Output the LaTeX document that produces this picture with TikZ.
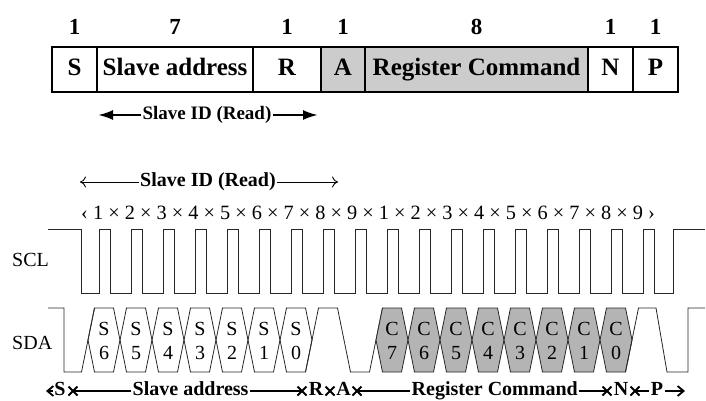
\documentclass[tikz,border=0pt]{standalone}
\usepackage{fontspec}
\setmainfont{Liberation Serif}
\usetikzlibrary{arrows.meta}
\definecolor{hdrgray}{HTML}{CCCCCC}
\definecolor{bitgray}{HTML}{B4B4B4}
\begin{document}
\begin{tikzpicture}[x=1pt,y=-1pt,
  hdrbox/.style={draw, line width=1.3pt, minimum height=45pt, inner sep=0pt,
    text height=17pt, text depth=5pt, font=\fontsize{25}{25}\selectfont\bfseries},
  numlab/.style={font=\fontsize{23}{23}\selectfont\bfseries, inner sep=0pt},
  idlab/.style={font=\fontsize{19}{19}\selectfont\bfseries, inner sep=1pt, text height=13pt, text depth=4pt},
  thickarr/.style={line width=2.3pt, -{Latex[length=15pt,width=10pt]}},
  thinarr/.style={line width=0.9pt, -{To[length=6pt,width=11pt]}},
  sig/.style={line width=0.8pt, black!85, line join=miter},
  siglab/.style={font=\fontsize{20}{20}\selectfont, inner sep=0pt, anchor=west},
  cell/.style={font=\fontsize{20}{24}\selectfont, align=center, inner sep=0pt},
  botlab/.style={font=\fontsize{20}{20}\selectfont\bfseries, inner sep=1.5pt, text height=13pt, text depth=4pt},
  botline/.style={line width=1.8pt},
  botarr/.style={line width=1.8pt, -{Straight Barb[length=6pt,width=10pt]}},
  xmk/.style={line width=1.8pt}
]
\useasboundingbox (0,0) rectangle (706,400);

% ---------- header frame ----------
\node[hdrbox, minimum width=45pt] (bS) at (74.5,69.5) {S};
\node[hdrbox, minimum width=156pt] (bSA) at (175,69.5) {Slave address};
\node[hdrbox, minimum width=68pt] (bR) at (287,69.5) {R};
\node[hdrbox, minimum width=44pt, fill=hdrgray] (bA) at (343,69.5) {A};
\node[hdrbox, minimum width=223pt, fill=hdrgray] (bRC) at (476.5,69.5) {Register Command};
\node[hdrbox, minimum width=45pt] (bN) at (610.5,69.5) {N};
\node[hdrbox, minimum width=45pt] (bP) at (655.5,69.5) {P};

\node[numlab] (n1) at (74.5,27) {1};
\node[numlab] (n2) at (175,27) {7};
\node[numlab] (n3) at (287,27) {1};
\node[numlab] (n4) at (343,27) {1};
\node[numlab] (n5) at (476.5,27) {8};
\node[numlab] (n6) at (610.5,27) {1};
\node[numlab] (n7) at (655.5,27) {1};

\node[idlab] (id1) at (207,115) {Slave ID (Read)};
\coordinate (id1l) at (98,115);
\coordinate (id1r) at (318,115);
\draw[thickarr] (id1.west) -- (id1l);
\draw[thickarr] (id1.east) -- (id1r);

% ---------- timing ----------
\node[idlab, font=\fontsize{20}{20}\selectfont\bfseries] (id2) at (208,182) {Slave ID (Read)};
\coordinate (id2l) at (80,182);
\coordinate (id2r) at (338,182);
\draw[thinarr] (id2.west) -- (id2l);
\draw[thinarr] (id2.east) -- (id2r);

\node[font=\fontsize{20.3}{20}\selectfont, inner sep=0pt] (bits) at (368,213)
  {‹ 1 × 2 × 3 × 4 × 5 × 6 × 7 × 8 × 9 × 1 × 2 × 3 × 4 × 5 × 6 × 7 × 8 × 9 ›};

\node[siglab] (scl) at (12,260) {SCL};
\node[siglab] (sda) at (12,343) {SDA};

% SCL
\draw[sig] (48,229) -- (81,229) -- (81,293)
  \foreach \k in {0,...,17} { -- ({99+32*\k},293) -- ({99+32*\k},229) -- ({110+32*\k},229) -- ({110+32*\k},293) }
  -- (673,293) -- (673,229) -- (705,229);

% SDA
\draw[sig] (48,308) -- (64,308) -- (64,372) -- (81.5,372) -- (94.5,308);
\foreach \k/\d in {0/6,1/5,2/4,3/3,4/2,5/1,6/0} {
  \pgfmathsetmacro\a{88+32*\k}
  \draw[sig] (\a,340) -- ({\a+6.5},308) -- ({\a+25.5},308) -- ({\a+32},340) -- ({\a+25.5},372) -- ({\a+6.5},372) -- cycle;
  \node[cell] at ({\a+16},341) {S\\\d};
}
\draw[sig] (305.5,372) -- (318.5,308) -- (337.5,308) -- (350.5,372) -- (369.5,372) -- (382.5,308);
\foreach \k/\d in {9/7,10/6,11/5,12/4,13/3,14/2,15/1,16/0} {
  \pgfmathsetmacro\a{88+32*\k}
  \draw[sig, fill=bitgray] (\a,340) -- ({\a+6.5},308) -- ({\a+25.5},308) -- ({\a+32},340) -- ({\a+25.5},372) -- ({\a+6.5},372) -- cycle;
  \node[cell] at ({\a+16},341) {C\\\d};
}
\draw[sig] (625.5,372) -- (638.5,308) -- (656,308) -- (667,372) -- (688,372) -- (688,308) -- (705,308);

% ---------- bottom legend ----------
\coordinate (a0) at (46,391);
\node[botlab] (lS) at (60,391) {S};
\coordinate (x1) at (73,391);
\node[botlab, anchor=west] (lSA) at (131,391) {Slave address};
\coordinate (x2) at (302,391);
\node[botlab] (lR) at (316,391) {R};
\coordinate (x3) at (330,391);
\node[botlab] (lA) at (343.5,391) {A};
\coordinate (x4) at (357,391);
\node[botlab, anchor=west] (lRC) at (410,391) {Register Command};
\coordinate (x5) at (607,391);
\node[botlab] (lN) at (621,391) {N};
\coordinate (x6) at (635,391);
\node[botlab] (lP) at (657,391) {P};
\coordinate (a1) at (685,391);

\draw[botarr] (lS.west) -- (a0);
\draw[botline] (x1) -- (lSA.west);
\draw[botline] (lSA.east) -- (x2);
\draw[botline] (x4) -- (lRC.west);
\draw[botline] (lRC.east) -- (x5);
\draw[botline] (x6) -- (lP.west);
\draw[botarr] (lP.east) -- (a1);
\foreach \c in {x1,x2,x3,x4,x5,x6} {
  \draw[xmk] (\c) +(-4.5,-4.5) -- +(4.5,4.5) +(-4.5,4.5) -- +(4.5,-4.5);
}
\end{tikzpicture}
\end{document}
